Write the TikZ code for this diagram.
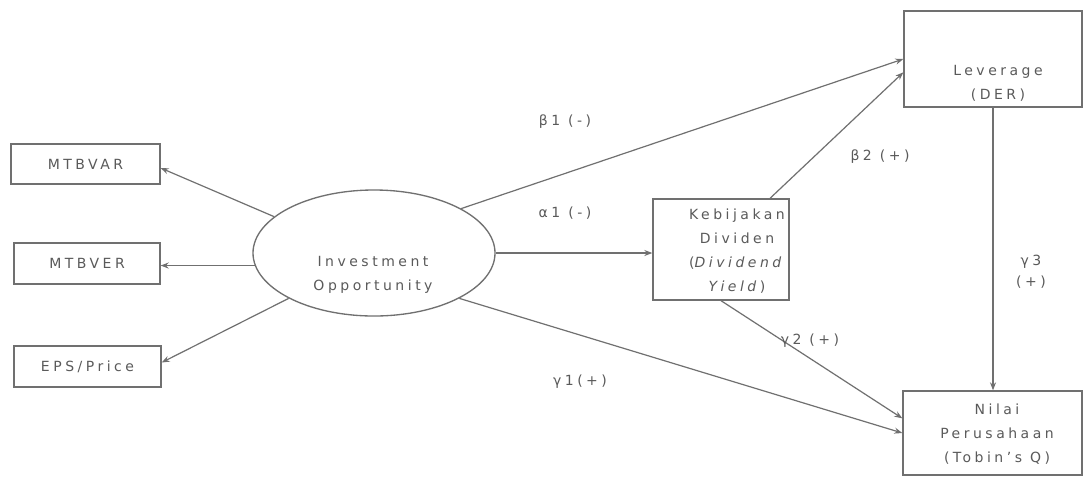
\documentclass[tikz,border=0pt]{standalone}
\usepackage{fontspec}
\setmainfont[LetterSpace=25]{DejaVu Sans}
\usetikzlibrary{arrows.meta,shapes.geometric}
\definecolor{ink}{HTML}{5A5A5A}
\definecolor{edge}{HTML}{707070}
\begin{document}
\begin{tikzpicture}[x=0.75pt,y=-0.75pt,
  box/.style={draw=edge, line width=1pt, inner sep=0pt, fill=white},
  txt/.style={text=ink, font=\fontsize{10.5}{18}\selectfont, align=center, inner sep=0pt},
  lbl/.style={text=ink, font=\fontsize{10.5}{16}\selectfont, align=center, inner sep=1pt},
  arr/.style={draw=edge, line width=0.9pt, -{Stealth[length=6pt,width=4.5pt]}}]
\useasboundingbox (0,0) rectangle (1084,480);
\fill[white] (0,0) rectangle (1084,480);

% indicator boxes
\node[box, minimum width=111.75pt, minimum height=30pt] (m1) at (85.5,164) {};
\node[txt] (m1t) at (m1.center) {MTBVAR};
\node[box, minimum width=109.5pt, minimum height=30.75pt] (m2) at (87,263.5) {};
\node[txt] (m2t) at (m2.center) {MTBVER};
\node[box, minimum width=110.25pt, minimum height=30.75pt] (m3) at (87.5,366.5) {};
\node[txt] (m3t) at (m3.center) {EPS/Price};

% latent construct
\node[box, ellipse, minimum width=181.5pt, minimum height=94.5pt] (inv) at (374,253) {};
\node[txt] (invt) at (373,275) {Investment\\Opportunity};

% Kebijakan Dividen
\node[box, minimum width=102pt, minimum height=75.75pt] (keb) at (721,249.5) {};
\node[txt] (kebt) at (737,251) {Kebijakan\\Dividen\\(\textit{Dividend}\\\textit{Yield})};

% Leverage
\node[box, minimum width=133.5pt, minimum height=72pt] (lev) at (993,59) {};
\node[txt] (levt) at (998,83.5) {Leverage\\(DER)};

% Nilai Perusahaan
\node[box, minimum width=134.25pt, minimum height=63pt] (nil) at (992.5,433) {};
\node[txt] (nilt) at (997,434) {Nilai\\Perusahaan\\(Tobin's Q)};

% connectors
\draw[arr] (inv.160) -- ([yshift=-3pt]m1.east);
\draw[arr] (inv.186) -- (inv.186 -| m2.east);
\draw[arr] (inv.208) -- ([yshift=3pt]m3.east);
\draw[arr] (inv.27) -- (lev.west);
\draw[arr] (inv.east) -- (inv.east -| keb.west);
\draw[arr] ([xshift=36.75pt]keb.north) -- ([yshift=-10pt]lev.west);
\draw[arr] (keb.south) -- ([yshift=11pt]nil.west);
\draw[arr] (inv.332) -- (nil.west);
\draw[arr] (lev.south) -- (lev.south |- nil.north);

% labels
\node[lbl] (lb1) at (565,122) {β1 (-)};
\node[lbl] (la1) at (565,213) {α1 (-)};
\node[lbl] (lb2) at (880,157) {β2 (+)};
\node[lbl] (lg2) at (810,341) {γ2 (+)};
\node[lbl] (lg1) at (580,382) {γ1(+)};
\node[lbl] (lg3) at (1031,272) {γ3\\(+)};
\end{tikzpicture}
\end{document}
